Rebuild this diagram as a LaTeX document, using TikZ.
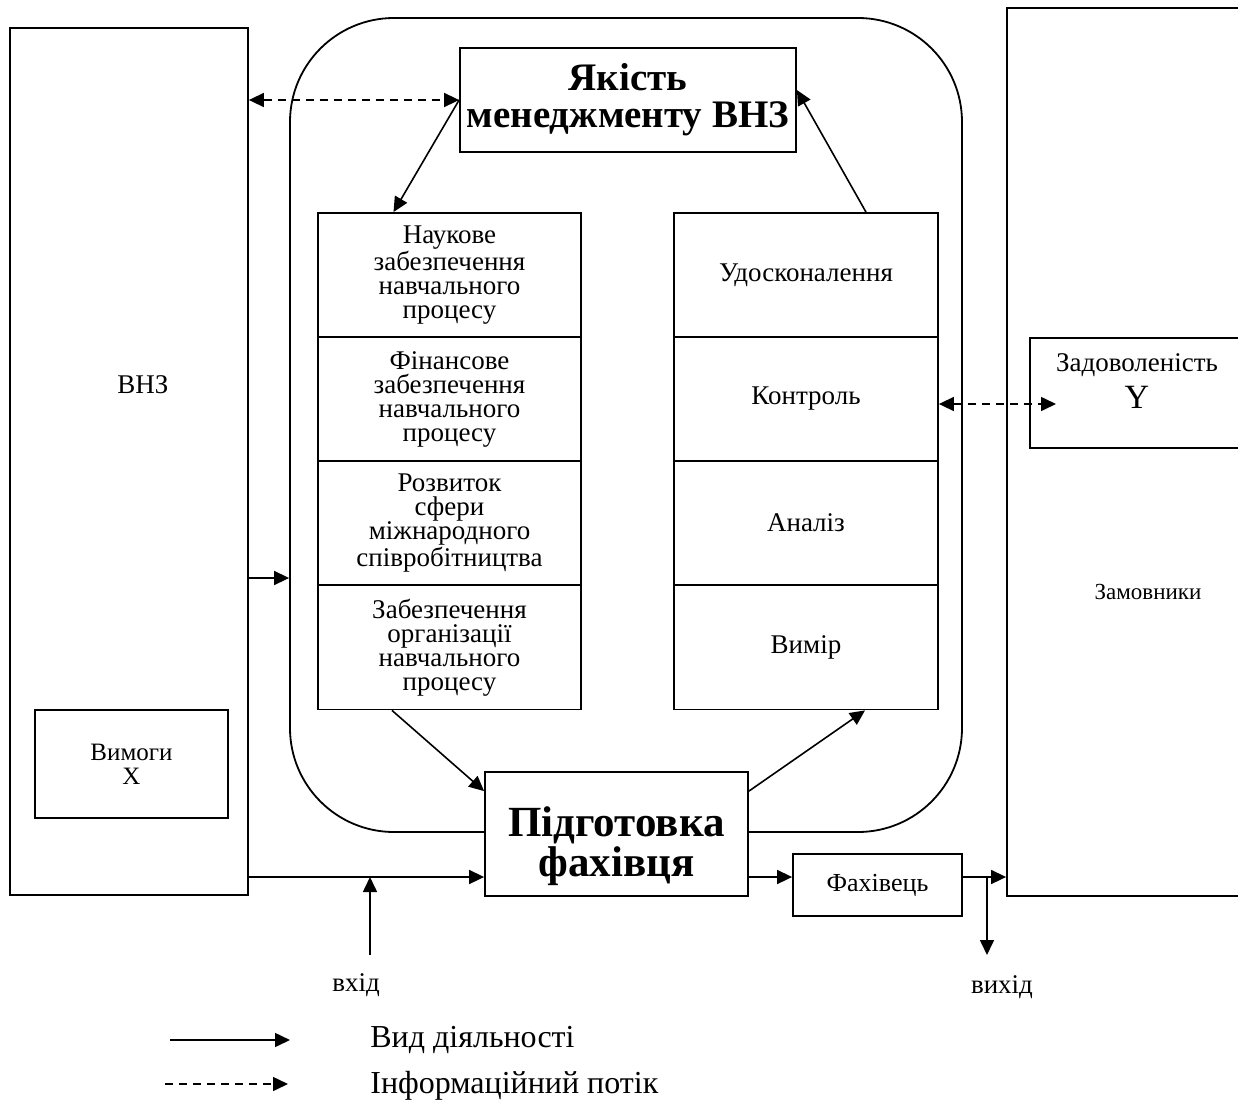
\documentclass[tikz,border=0pt]{standalone}
\usepackage{fontspec}
\setmainfont{Liberation Serif}
\usetikzlibrary{positioning, arrows.meta}

\begin{document}
\begin{tikzpicture}[x=0.5pt, y=-0.5pt, >={Triangle[length=7.5pt, width=7pt]}]

\tikzstyle{box_style} = [draw, line width=0.9, fill=white, inner sep=0pt, align=center, font=\fontsize{13.5}{12}\selectfont]
\tikzstyle{head_style} = [box_style, font=\bfseries\fontsize{19.5}{18.5}\selectfont]
\tikzstyle{text_style} = [inner sep=0pt, align=center, font=\fontsize{13.5}{12}\selectfont]
\tikzstyle{act_style} = [draw, line width=0.8, ->]
\tikzstyle{info_style} = [act_style, dash pattern=on 4pt off 3pt]

\useasboundingbox (0,0) rectangle (1238,1109);

\node[draw, line width=0.9, rounded corners=52pt, minimum width=336pt, minimum height=407pt] (loop) at (626,425) {};

\node[box_style, minimum width=119pt, minimum height=433.5pt] (vnz) at (129,461.5) {};
\node[text_style] (vnz_label) at (143,385) {ВНЗ};
\node[box_style, minimum width=96.5pt, minimum height=54pt, font=\fontsize{12.5}{12}\selectfont] (req) at (131.5,764) {Вимоги\\X};

\node[head_style, minimum width=168pt, minimum height=52pt] (quality) at (628,100) {Якість\\менеджменту ВНЗ};

\node[box_style, minimum width=131.5pt, minimum height=62pt] (sci) at (449.5,275) {Наукове\\забезпечення\\навчального\\процесу};
\node[box_style, minimum width=131.5pt, minimum height=62pt] (fin) at (449.5,399) {Фінансове\\забезпечення\\навчального\\процесу};
\node[box_style, minimum width=131.5pt, minimum height=62pt] (intl) at (449.5,523) {Розвиток\\сфери\\міжнародного\\співробітництва};
\node[box_style, minimum width=131.5pt, minimum height=62pt] (org) at (449.5,647.5) {Забезпечення\\організації\\навчального\\процесу};

\node[box_style, minimum width=132pt, minimum height=62pt] (impr) at (806,275) {Удосконалення};
\node[box_style, minimum width=132pt, minimum height=62pt] (ctrl) at (806,399) {Контроль};
\node[box_style, minimum width=132pt, minimum height=62pt] (anal) at (806,523) {Аналіз};
\node[box_style, minimum width=132pt, minimum height=62pt] (meas) at (806,647.5) {Вимір};

\node[box_style, minimum width=131.5pt, minimum height=62pt] (prep) at (616.5,834) {};
\node[text_style, font=\bfseries\fontsize{21.5}{20}\selectfont] (prep_label) at (616.5,846) {Підготовка\\фахівця};
\node[box_style, minimum width=84.5pt, minimum height=31pt, font=\fontsize{13}{12}\selectfont] (spec) at (877.5,885) {Фахівець};

\node[box_style, minimum width=126pt, minimum height=444pt] (cust) at (1133,452) {};
\node[text_style, font=\fontsize{11.5}{12}\selectfont] (cust_label) at (1148,592) {Замовники};
\node[box_style, minimum width=115pt, minimum height=55pt] (sat) at (1145,393) {};
\node[text_style] (sat_label) at (1137,381) {Задоволеність\\[4pt]{\fontsize{17}{16}\selectfont Y}};

\node[text_style] (in_label) at (356,985) {вхід};
\node[text_style] (out_label) at (1002,987) {вихід};

\coordinate (in_start) at (370,955);
\coordinate (in_pt) at (370,877);
\coordinate (out_split) at (987,877);
\coordinate (out_end) at (987,955);
\coordinate (sat_in) at (1056,404);

% information flows
\draw[info_style, <->] (vnz.east |- quality.west) -- (quality.west);
\draw[info_style, <->] (ctrl.east |- sat_in) -- (sat_in);

% activities
\draw[act_style] (quality.west) -- ([xshift=-28pt]sci.north);
\draw[act_style] ([xshift=30pt]impr.north) -- ([yshift=5pt]quality.east);
\draw[act_style] (vnz.east |- 0,578) -- (loop.west |- 0,578);
\draw[act_style] ([xshift=-28.75pt]org.south) -- ([yshift=-10pt]prep.north west);
\draw[act_style] ([yshift=-10pt]prep.north east) -- ([xshift=29.5pt]meas.south);
\draw[act_style] (vnz.east |- in_pt) -- (prep.west |- in_pt);
\draw[act_style] (in_start) -- (in_pt);
\draw[act_style] (prep.east |- out_split) -- (spec.west |- out_split);
\draw[act_style] (spec.east |- out_split) -- (cust.west |- out_split);
\draw[act_style] (out_split) -- (out_end);

% legend
\coordinate (leg_act_a) at (170,1040);
\coordinate (leg_act_b) at (290,1040);
\coordinate (leg_info_a) at (165,1084);
\coordinate (leg_info_b) at (288,1084);
\draw[act_style] (leg_act_a) -- (leg_act_b);
\draw[info_style] (leg_info_a) -- (leg_info_b);
\node[text_style, anchor=west, font=\fontsize{16}{16}\selectfont] (leg_act) at (370,1040) {Вид діяльності};
\node[text_style, anchor=west, font=\fontsize{16}{16}\selectfont] (leg_info) at (370,1086) {Інформаційний потік};

\end{tikzpicture}
\end{document}
